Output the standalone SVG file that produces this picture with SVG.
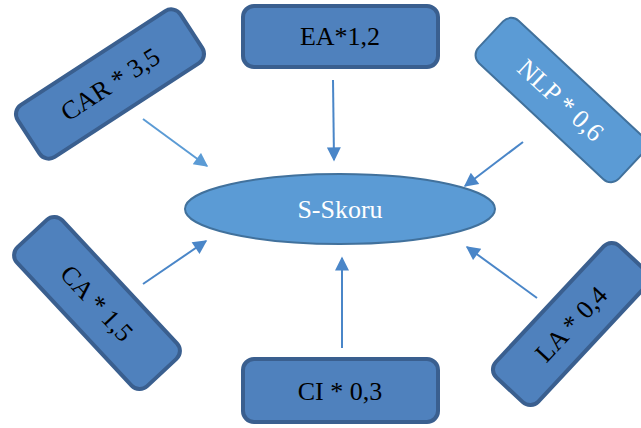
<svg xmlns="http://www.w3.org/2000/svg" width="641" height="428" viewBox="0 0 641 428">
<style>
.box{fill:#4f81bd;stroke:#3a5f8f;stroke-width:4}
.lbox{fill:#5b9bd5;stroke:#41719c;stroke-width:2}
.t{font-family:"Liberation Serif","Times New Roman",serif;font-size:26px;fill:#000;text-anchor:middle}
.tw{fill:#fff}
.c{stroke:#4a86c8;stroke-width:2;fill:none;marker-end:url(#ah)}
.cl{stroke:#5b9bd5}
</style>
<defs>
<marker id="ah" viewBox="0 0 10 10" refX="9" refY="5" markerWidth="8" markerHeight="7" orient="auto" markerUnits="strokeWidth">
<path d="M0,0 L10,5 L0,10 z" fill="context-stroke"/>
</marker>
</defs>
<g id="connectors">
<line class="c cl" x1="143" y1="119" x2="207" y2="166" stroke="#5b9bd5"/>
<line class="c" x1="333" y1="80" x2="334" y2="160"/>
<line class="c" x1="523" y1="142" x2="465" y2="186"/>
<line class="c" x1="143" y1="284" x2="206" y2="241"/>
<line class="c" x1="342" y1="348" x2="342" y2="258"/>
<line class="c" x1="537" y1="298" x2="467" y2="247"/>
</g>
<g id="s-skoru">
<ellipse class="lbox" cx="340" cy="209" rx="155" ry="35"/>
<text class="t tw" x="340" y="218">S-Skoru</text>
</g>
<g id="ea">
<rect class="box" x="243" y="6" width="195" height="61" rx="11"/>
<text class="t" x="340" y="45">EA*1,2</text>
</g>
<g id="ci">
<rect class="box" x="243" y="359" width="195" height="63" rx="11"/>
<text class="t" x="340" y="400">CI * 0,3</text>
</g>
<g id="car" transform="translate(110,84) rotate(-33)">
<rect class="box" x="-97" y="-31" width="194" height="62" rx="11"/>
<text class="t" x="0" y="9">CAR * 3,5</text>
</g>
<g id="nlp" transform="translate(561,100) rotate(43)">
<rect class="lbox" x="-96" y="-29" width="192" height="58" rx="11"/>
<text class="t tw" x="0" y="9">NLP * 0,6</text>
</g>
<g id="ca" transform="translate(97,303) rotate(47)">
<rect class="box" x="-95" y="-31" width="190" height="62" rx="11"/>
<text class="t" x="0" y="9">CA * 1,5</text>
</g>
<g id="la" transform="translate(571,324) rotate(-47)">
<rect class="box" x="-90" y="-29" width="180" height="58" rx="11"/>
<text class="t" x="0" y="9">LA * 0,4</text>
</g>
</svg>
